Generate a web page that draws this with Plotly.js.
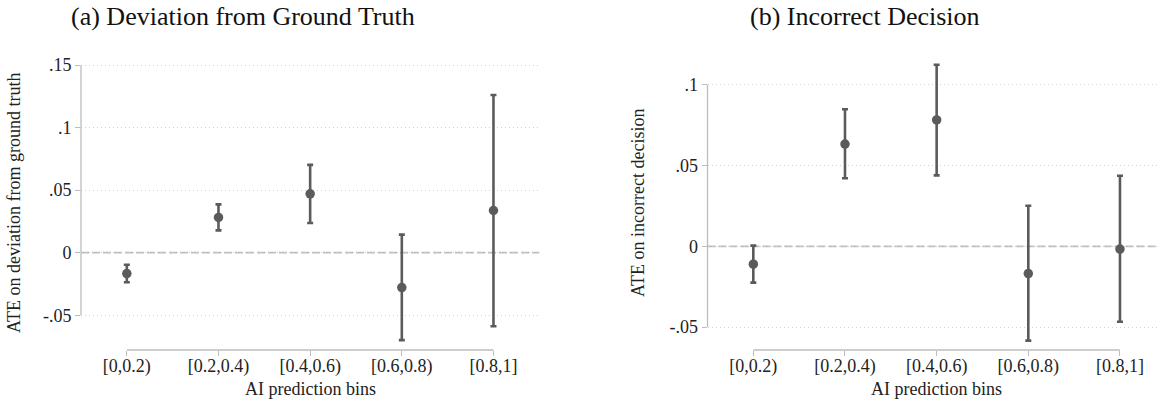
<!DOCTYPE html>
<html>
<head>
<meta charset="utf-8">
<script src="https://cdn.plot.ly/plotly-3.0.1.min.js"></script>
<style>html,body{margin:0;padding:0;background:#fff;}#chart{width:1157px;height:402px;}</style>
</head>
<body>
<div id="chart"></div>
<script>
// ---- data ----
const bins = ["[0,0.2)", "[0.2,0.4)", "[0.4,0.6)", "[0.6,0.8)", "[0.8,1]"];

// (a) Deviation from ground truth
const devMean  = [-0.0167, 0.0282, 0.0470, -0.0279, 0.0337];
const devLower = [-0.0237, 0.0178, 0.0237, -0.0699, -0.0588];
const devUpper = [-0.0096, 0.0386, 0.0702, 0.0144, 0.1260];

// (b) Incorrect decision
const incMean  = [-0.0111, 0.0633, 0.0782, -0.0169, -0.0017];
const incLower = [-0.0225, 0.0421, 0.0439, -0.0584, -0.0467];
const incUpper = [0.0004, 0.0848, 0.1124, 0.0251, 0.0437];

const devTicks = [-0.05, 0, 0.05, 0.1, 0.15];
const devTickText = ["-.05", "0", ".05", ".1", ".15"];
const incTicks = [-0.05, 0, 0.05, 0.1];
const incTickText = ["-.05", "0", ".05", ".1"];

const titleA = "(a) Deviation from Ground Truth";
const titleB = "(b) Incorrect Decision";
const yTitleA = "ATE on deviation from ground truth";
const yTitleB = "ATE on incorrect decision";
const xTitle = "AI prediction bins";

// ---- styling ----
const W = 1157, H = 402;
const FONT = "Liberation Serif, Times New Roman, serif";
const MARK = "#5b5b5b";
const AXC = "#bdbdbd";
const idx = bins.map((_, i) => i);

function trace(mean, lo, hi, xa, ya) {
  return {
    type: "scatter", mode: "markers",
    x: idx, y: mean, xaxis: xa, yaxis: ya,
    marker: {color: MARK, size: 9.5},
    error_y: {
      type: "data", symmetric: false,
      array: hi.map((v, i) => v - mean[i]),
      arrayminus: mean.map((v, i) => v - lo[i]),
      color: MARK, thickness: 2.6, width: 3
    },
    hoverinfo: "skip", showlegend: false, cliponaxis: false
  };
}

const px = v => v / W;
const mT = 55, mB = 52, plotH = H - mT - mB;
const py = v => (H - mB - v) / plotH;

function xaxis(domain, range) {
  return {
    domain: domain, range: range,
    tickmode: "array", tickvals: idx, ticktext: bins,
    ticks: "outside", ticklen: 5, tickwidth: 1, tickcolor: AXC,
    ticklabelstandoff: -6,
    showline: false, showgrid: false, zeroline: false,
    tickfont: {family: FONT, size: 18, color: "#222"}, fixedrange: true
  };
}
function yaxis(anchor, range, tv, tt) {
  return {
    anchor: anchor, range: range,
    tickmode: "array", tickvals: tv, ticktext: tt,
    ticks: "outside", ticklen: 5, tickwidth: 1, tickcolor: AXC,
    showline: false, zeroline: false,
    showgrid: true, gridcolor: "#d0d0d0", griddash: "1px,3px", gridwidth: 1,
    tickfont: {family: FONT, size: 18, color: "#222"}, fixedrange: true
  };
}

const layout = {
  width: W, height: H,
  margin: {l: 0, r: 0, t: mT, b: mB},
  paper_bgcolor: "#fff", plot_bgcolor: "#fff",
  xaxis: Object.assign(xaxis([px(81), px(539.3)], [-0.5, 4.5]), {anchor: "y"}),
  yaxis: yaxis("x", [-0.0778, 0.158], devTicks, devTickText),
  xaxis2: Object.assign(xaxis([px(707.5), 1], [-0.5, 4.404]), {anchor: "y2"}),
  yaxis2: yaxis("x2", [-0.0642, 0.1184], incTicks, incTickText),
  shapes: [
    // zero reference lines
    {type: "line", xref: "x domain", x0: 0, x1: 1, yref: "y", y0: 0, y1: 0,
     line: {color: "#bcbcbc", width: 1.7, dash: "8px,3px"}, layer: "below"},
    {type: "line", xref: "x2 domain", x0: 0, x1: 1, yref: "y2", y0: 0, y1: 0,
     line: {color: "#bcbcbc", width: 1.7, dash: "8px,3px"}, layer: "below"},
    // axis lines spanning the tick range
    {type: "line", xref: "x domain", x0: 0, x1: 0, yref: "y", y0: devTicks[0], y1: devTicks[devTicks.length - 1],
     line: {color: AXC, width: 1.3}},
    {type: "line", xref: "x", x0: idx[0], x1: idx[idx.length - 1], yref: "y domain", y0: 0, y1: 0,
     line: {color: AXC, width: 1.3}},
    {type: "line", xref: "x2 domain", x0: 0, x1: 0, yref: "y2", y0: incTicks[0], y1: incTicks[incTicks.length - 1],
     line: {color: AXC, width: 1.3}},
    {type: "line", xref: "x2", x0: idx[0], x1: idx[idx.length - 1], yref: "y2 domain", y0: 0, y1: 0,
     line: {color: AXC, width: 1.3}}
  ],
  annotations: [
    {text: titleA, xref: "paper", yref: "paper", x: px(243), y: py(16), showarrow: false,
     xanchor: "center", yanchor: "middle", font: {family: FONT, size: 26, color: "#111"}},
    {text: titleB, xref: "paper", yref: "paper", x: px(865), y: py(16), showarrow: false,
     xanchor: "center", yanchor: "middle", font: {family: FONT, size: 26, color: "#111"}},
    {text: yTitleA, xref: "paper", yref: "paper", x: px(14), y: py(203), textangle: -90, showarrow: false,
     xanchor: "center", yanchor: "middle", font: {family: FONT, size: 18, color: "#222"}},
    {text: yTitleB, xref: "paper", yref: "paper", x: px(638), y: py(203), textangle: -90, showarrow: false,
     xanchor: "center", yanchor: "middle", font: {family: FONT, size: 18, color: "#222"}},
    {text: xTitle, xref: "paper", yref: "paper", x: px(310), y: py(389), showarrow: false,
     xanchor: "center", yanchor: "middle", font: {family: FONT, size: 18, color: "#222"}},
    {text: xTitle, xref: "paper", yref: "paper", x: px(936.7), y: py(389), showarrow: false,
     xanchor: "center", yanchor: "middle", font: {family: FONT, size: 18, color: "#222"}}
  ]
};

Plotly.newPlot("chart", [
  trace(devMean, devLower, devUpper, "x", "y"),
  trace(incMean, incLower, incUpper, "x2", "y2")
], layout, {staticPlot: true, displayModeBar: false});
</script>
</body>
</html>
